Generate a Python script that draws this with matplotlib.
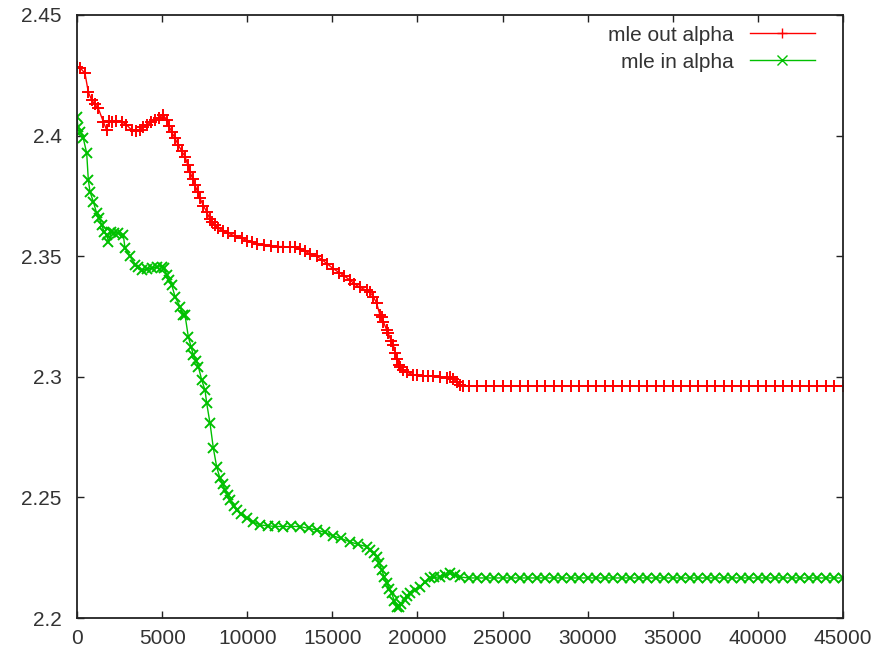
import matplotlib
matplotlib.use("Agg")
import matplotlib.pyplot as plt

# ---- data ----
out_x = [0, 200, 470, 665, 860, 1050, 1250, 1545, 1740, 1900, 2040, 2300, 2625, 2900,
         3215, 3450, 3700, 3900, 4095, 4350, 4580, 4820, 5070, 5270, 5400, 5560, 5750,
         5950, 6150, 6345, 6500, 6640, 6800, 6930, 7080, 7225, 7420, 7620, 7800, 7910,
         8100, 8305, 8600, 8890, 9300, 9675, 10000, 10260, 10600, 11000, 11400, 11800,
         12120, 12500, 12800, 13100, 13400, 13700, 14080, 14400, 14700, 15060, 15400,
         15700, 16040, 16300, 16600, 17020, 17215, 17410, 17605, 17800, 17900, 18000,
         18195, 18290, 18450, 18585, 18700, 18780, 18900, 18975, 19170, 19400, 19760,
         19955, 20300, 20600, 20935, 21300, 21720, 21915, 22100, 22305, 22500, 22695,
         23000, 23500, 24000, 24500, 25000, 25500, 26000, 26500, 27000, 27500, 28000,
         28500, 29000, 29500, 30000, 30500, 31000, 31500, 32000, 32500, 33000, 33500,
         34000, 34500, 35000, 35500, 36000, 36500, 37000, 37500, 38000, 38500, 39000,
         39500, 40000, 40500, 41000, 41500, 42000, 42500, 43000, 43500, 44000, 44500,
         45000]
out_alpha = [2.4286, 2.4280, 2.4258, 2.4180, 2.4148, 2.4130, 2.4113, 2.4058, 2.4023,
             2.4062, 2.4058, 2.4062, 2.4058, 2.4045, 2.4023, 2.4020, 2.4023, 2.4035,
             2.4044, 2.4055, 2.4065, 2.4075, 2.4085, 2.4065, 2.4040, 2.4016, 2.3990,
             2.3961, 2.3937, 2.3913, 2.3880, 2.3850, 2.3820, 2.3795, 2.3768, 2.3740,
             2.3710, 2.3684, 2.3655, 2.3643, 2.3628, 2.3616, 2.3605, 2.3595, 2.3583,
             2.3574, 2.3565, 2.3560, 2.3552, 2.3546, 2.3542, 2.3540, 2.3540, 2.3538,
             2.3537, 2.3530, 2.3520, 2.3510, 2.3500, 2.3485, 2.3468, 2.3448, 2.3432,
             2.3418, 2.3401, 2.3385, 2.3372, 2.3358, 2.3350, 2.3332, 2.3305, 2.3255,
             2.3250, 2.3228, 2.3194, 2.3180, 2.3150, 2.3130, 2.3100, 2.3075, 2.3050,
             2.3042, 2.3028, 2.3018, 2.3009, 2.3007, 2.3003, 2.3002, 2.3005, 2.3000,
             2.2996, 2.2998, 2.2990, 2.2980, 2.2968, 2.2962,
             2.2962, 2.2962, 2.2962, 2.2962, 2.2962, 2.2962, 2.2962, 2.2962, 2.2962,
             2.2962, 2.2962, 2.2962, 2.2962, 2.2962, 2.2962, 2.2962, 2.2962, 2.2962,
             2.2962, 2.2962, 2.2962, 2.2962, 2.2962, 2.2962, 2.2962, 2.2962, 2.2962,
             2.2962, 2.2962, 2.2962, 2.2962, 2.2962, 2.2962, 2.2962, 2.2962, 2.2962,
             2.2962, 2.2962, 2.2962, 2.2962, 2.2962, 2.2962, 2.2962, 2.2962, 2.2962]

in_x = [0, 50, 200, 370, 570, 665, 765, 960, 1155, 1300, 1450, 1600, 1745, 1850, 2000,
        2200, 2430, 2720, 2820, 3115, 3410, 3600, 3800, 4100, 4390, 4700, 4975, 5100,
        5270, 5400, 5565, 5760, 6050, 6245, 6345, 6540, 6700, 6835, 7000, 7130, 7325,
        7520, 7620, 7815, 8010, 8205, 8400, 8550, 8695, 8850, 8990, 9200, 9380, 9650,
        9970, 10350, 10750, 11200, 11650, 12120, 12600, 13100, 13600, 14080, 14550,
        15060, 15500, 16040, 16500, 17020, 17215, 17420, 17605, 17750, 17900, 18050,
        18195, 18350, 18490, 18650, 18780, 18900, 19050, 19250, 19400, 19565, 19850,
        20150, 20450, 20740, 21000, 21325, 21600, 21915, 22200, 22500,
        23000, 23500, 24000, 24500, 25000, 25500, 26000, 26500, 27000, 27500, 28000,
        28500, 29000, 29500, 30000, 30500, 31000, 31500, 32000, 32500, 33000, 33500,
        34000, 34500, 35000, 35500, 36000, 36500, 37000, 37500, 38000, 38500, 39000,
        39500, 40000, 40500, 41000, 41500, 42000, 42500, 43000, 43500, 44000, 44500,
        45000]
in_alpha = [2.4078, 2.4037, 2.4015, 2.3989, 2.3927, 2.3816, 2.3767, 2.3726, 2.3678,
            2.3660, 2.3629, 2.3600, 2.3588, 2.3560, 2.3600, 2.3598, 2.3595, 2.3588,
            2.3533, 2.3500, 2.3464, 2.3455, 2.3443, 2.3446, 2.3450, 2.3455, 2.3457,
            2.3452, 2.3422, 2.3400, 2.3381, 2.3332, 2.3291, 2.3256, 2.3256, 2.3166,
            2.3125, 2.3090, 2.3065, 2.3042, 2.2987, 2.2945, 2.2890, 2.2807, 2.2704,
            2.2627, 2.2579, 2.2555, 2.2531, 2.2508, 2.2489, 2.2465, 2.2448, 2.2430,
            2.2413, 2.2398, 2.2386, 2.2382, 2.2380, 2.2379, 2.2380, 2.2379, 2.2372,
            2.2365, 2.2355, 2.2340, 2.2330, 2.2316, 2.2305, 2.2296, 2.2282, 2.2270,
            2.2254, 2.2228, 2.2199, 2.2170, 2.2144, 2.2122, 2.2102, 2.2070, 2.2047,
            2.2045, 2.2058, 2.2075, 2.2090, 2.2102, 2.2118, 2.2130, 2.2150, 2.2165,
            2.2168, 2.2171, 2.2178, 2.2185, 2.2178, 2.2170,
            2.2166, 2.2166, 2.2166, 2.2166, 2.2166, 2.2166, 2.2166, 2.2166, 2.2166,
            2.2166, 2.2166, 2.2166, 2.2166, 2.2166, 2.2166, 2.2166, 2.2166, 2.2166,
            2.2166, 2.2166, 2.2166, 2.2166, 2.2166, 2.2166, 2.2166, 2.2166, 2.2166,
            2.2166, 2.2166, 2.2166, 2.2166, 2.2166, 2.2166, 2.2166, 2.2166, 2.2166,
            2.2166, 2.2166, 2.2166, 2.2166, 2.2166, 2.2166, 2.2166, 2.2166, 2.2166]

x_ticks = [0, 5000, 10000, 15000, 20000, 25000, 30000, 35000, 40000, 45000]
y_ticks = [2.2, 2.25, 2.3, 2.35, 2.4, 2.45]
y_tick_labels = ["2.2", "2.25", "2.3", "2.35", "2.4", "2.45"]
labels = ["mle out alpha", "mle in alpha"]

# ---- figure ----
plt.rcParams['font.family'] = ['Liberation Sans', 'DejaVu Sans']
fig = plt.figure(figsize=(8.79, 6.58), dpi=100)
ax = fig.add_axes([77 / 879, 1 - 618 / 658, (843 - 77) / 879, (618 - 15) / 658])

ax.plot(out_x, out_alpha, color="#ff0000", lw=1.0, marker="+", markersize=8.5,
        markeredgewidth=1.4, label=labels[0])
ax.plot(in_x, in_alpha, color="#00c000", lw=1.0, marker="x", markersize=7,
        markeredgewidth=1.4, label=labels[1])

ax.set_xlim(0, 45000)
ax.set_ylim(2.2, 2.45)
ax.set_xticks(x_ticks)
ax.set_xticklabels([str(t) for t in x_ticks])
ax.set_yticks(y_ticks)
ax.set_yticklabels(y_tick_labels)

text_color = "#333333"
fs = 15
ax.tick_params(direction="in", length=5, width=1.0, top=True, right=True,
               labelsize=fs, colors="#222222", labelcolor=text_color)
ax.tick_params(axis="y", pad=11)
ax.tick_params(axis="x", pad=8)
for s in ax.spines.values():
    s.set_linewidth(1.3)
    s.set_color("#222222")

leg = ax.legend(loc="upper right", frameon=False, markerfirst=False, numpoints=1,
                fontsize=fs, handlelength=3.1, borderaxespad=0.0, borderpad=0.4,
                labelspacing=0.38, handletextpad=0.8,
                bbox_to_anchor=(0.974, 0.996))
for t in leg.get_texts():
    t.set_color(text_color)
for h in leg.legend_handles:
    h.set_markersize(7)
    h.set_markeredgewidth(1.0)

fig.savefig("out.png", dpi=100)
